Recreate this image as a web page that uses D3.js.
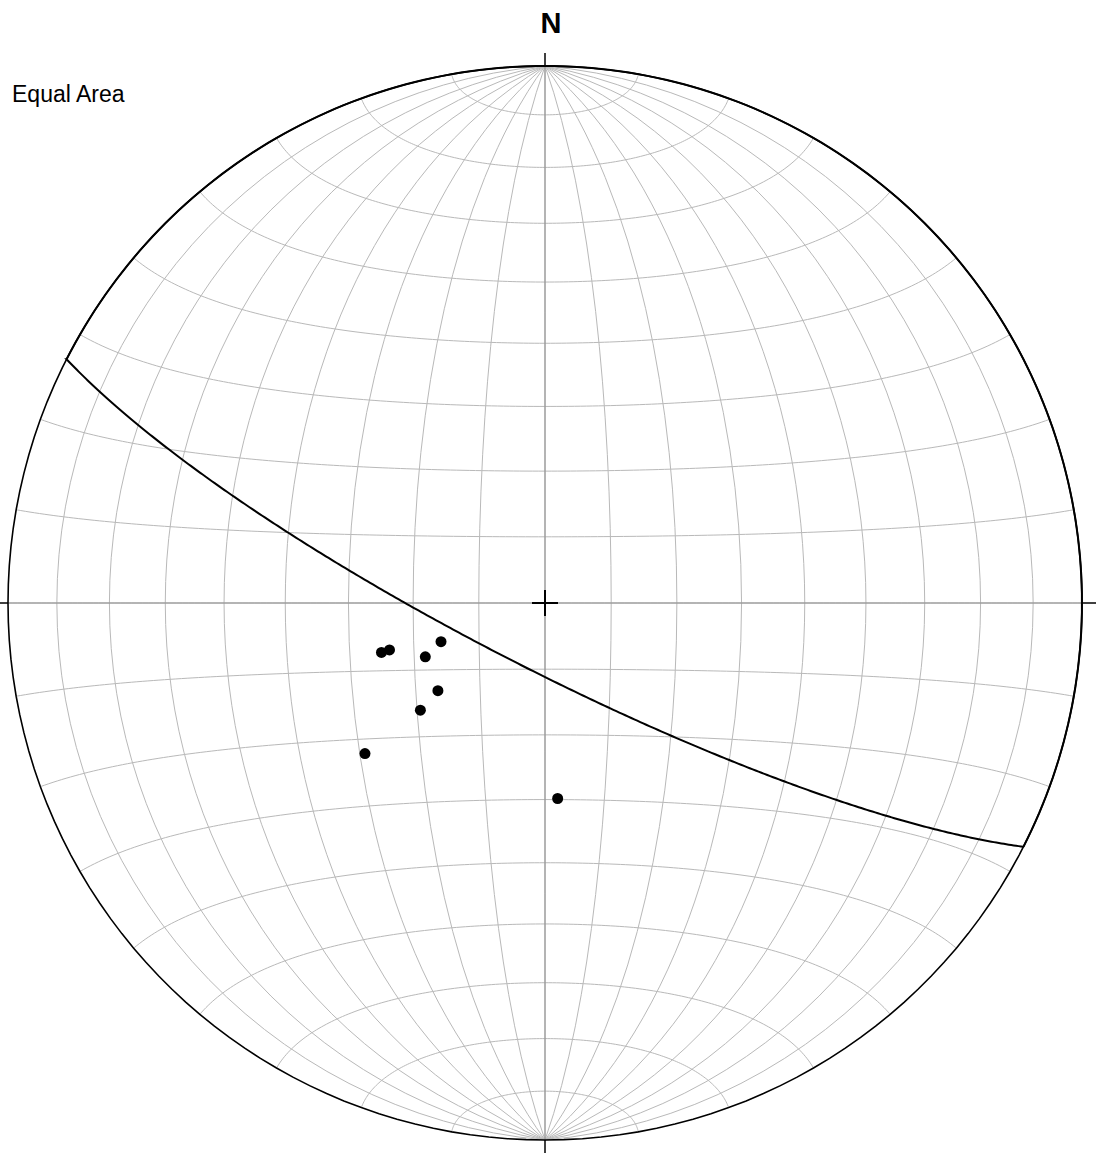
<!DOCTYPE html>
<html>
<head>
<meta charset="utf-8">
<script src="https://cdn.jsdelivr.net/npm/d3@7"></script>
<style>
  html, body { margin: 0; padding: 0; background: #fff; }
  svg { display: block; }
</style>
</head>
<body>
<div id="chart"></div>
<script>
// poles / lineations (trend, plunge in degrees)
const trends  = [253.2, 253.2, 249.6, 245.8, 230.7, 229.3, 230.1, 176.3];
const plunges = [64.0, 65.3, 73.2, 70.1, 69.0, 65.0, 54.0, 60.1];

// one plane drawn as a great circle
const planeStrike = [117];
const planeDip    = [80];

const gridStep = [10, 10];
const titleText = "Equal Area";
const northLabel = "N";

const width = 1096, height = 1156;
const cx = 545, cy = 603, R = 537;

const svg = d3.select("#chart")
  .append("svg")
    .attr("width", width)
    .attr("height", height);

// Schmidt net = equatorial Lambert azimuthal equal-area
const netProj = d3.geoAzimuthalEqualArea()
    .rotate([0, 0])
    .clipAngle(90)
    .scale(R / Math.SQRT2)
    .translate([cx, cy])
    .precision(0.2);

// data projection, centred on the downward vertical (lower hemisphere)
const dataProj = d3.geoAzimuthalEqualArea()
    .rotate([0, 90])
    .clipAngle(90)
    .scale(R / Math.SQRT2)
    .translate([cx, cy])
    .precision(0.2);

const netPath = d3.geoPath(netProj);
const dataPath = d3.geoPath(dataProj);

const graticule = d3.geoGraticule()
    .extentMajor([[-180, -89.9999], [180, 89.9999]])
    .extentMinor([[-180, -89.9999], [180, 89.9999]])
    .step(gridStep)
    .precision(1);

svg.append("path")
    .datum(graticule())
    .attr("d", netPath)
    .attr("fill", "none")
    .attr("stroke", "#b9b9b9")
    .attr("stroke-width", 1);

// N-S and E-W axes
svg.append("line")
    .attr("x1", cx).attr("x2", cx)
    .attr("y1", cy - R).attr("y2", cy + R)
    .attr("stroke", "#8c8c8c").attr("stroke-width", 1);
svg.append("line")
    .attr("x1", cx - R).attr("x2", cx + R)
    .attr("y1", cy).attr("y2", cy)
    .attr("stroke", "#8c8c8c").attr("stroke-width", 1);

// outside ticks
const tickLen = 13;
[[cx, cy - R, cx, cy - R - tickLen],
 [cx, cy + R, cx, cy + R + tickLen],
 [cx - R, cy, 0, cy],
 [cx + R, cy, width, cy]].forEach(t => {
  svg.append("line")
    .attr("x1", t[0]).attr("y1", t[1])
    .attr("x2", t[2]).attr("y2", t[3])
    .attr("stroke", "#000").attr("stroke-width", 1.5);
});

// primitive circle
svg.append("path")
    .datum({type: "Sphere"})
    .attr("d", netPath)
    .attr("fill", "none")
    .attr("stroke", "#000")
    .attr("stroke-width", 1.6);

// centre cross
svg.append("path")
    .attr("d", `M${cx - 13},${cy}H${cx + 13}M${cx},${cy - 13}V${cy + 13}`)
    .attr("stroke", "#000")
    .attr("stroke-width", 2);

// great circle: pole to plane is (dipdir-180, 90-dip)
planeStrike.forEach((s, i) => {
  const dipDir = (s + 90) % 360;
  const pole = [dipDir - 180, -(90 - planeDip[i])];
  const gc = d3.geoCircle().center(pole).radius(90).precision(0.5)();
  svg.append("path")
      .datum(gc)
      .attr("d", dataPath)
      .attr("fill", "none")
      .attr("stroke", "#000")
      .attr("stroke-width", 2);
});

// points
svg.append("g")
  .selectAll("circle")
  .data(trends.map((t, i) => [t, -plunges[i]]))
  .join("circle")
    .attr("cx", d => dataProj(d)[0])
    .attr("cy", d => dataProj(d)[1])
    .attr("r", 5.5)
    .attr("fill", "#000");

svg.append("text")
    .attr("x", 551)
    .attr("y", 33)
    .attr("text-anchor", "middle")
    .attr("font-family", "Liberation Sans, Arial, sans-serif")
    .attr("font-weight", "bold")
    .attr("font-size", 29)
    .attr("fill", "#000")
    .text(northLabel);

svg.append("text")
    .attr("x", 12)
    .attr("y", 102)
    .attr("font-family", "Liberation Sans, Arial, sans-serif")
    .attr("font-size", 23)
    .attr("fill", "#000")
    .text(titleText);
</script>
</body>
</html>
